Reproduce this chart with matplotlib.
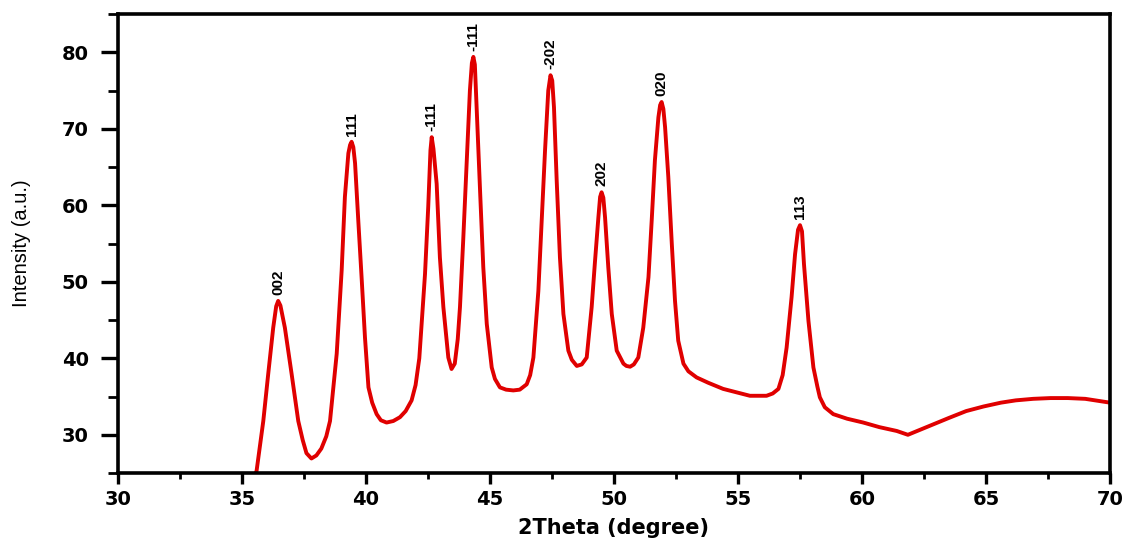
import matplotlib.pyplot as plt
from matplotlib.ticker import MultipleLocator

# digitised XRD pattern (2theta in degrees, intensity in a.u.)
two_theta = [35.45, 35.59, 35.86, 36.06, 36.26, 36.38, 36.46, 36.55, 36.73, 37.0, 37.27,
             37.45, 37.6, 37.8, 38.0, 38.2, 38.4, 38.55, 38.82, 39.02, 39.15, 39.29,
             39.36, 39.42, 39.49, 39.56, 39.69, 39.83, 39.96, 40.1, 40.25, 40.43, 40.6,
             40.83, 41.1, 41.37, 41.6, 41.84, 42.0, 42.15, 42.38, 42.51, 42.6, 42.65,
             42.72, 42.85, 42.98, 43.12, 43.32, 43.45, 43.58, 43.7, 43.79, 43.92, 44.06,
             44.19, 44.27, 44.33, 44.39, 44.46, 44.6, 44.73, 44.87, 45.07, 45.2, 45.4,
             45.65, 45.94, 46.2, 46.48, 46.62, 46.75, 46.95, 47.08, 47.22, 47.35, 47.44,
             47.51, 47.58, 47.69, 47.82, 47.96, 48.16, 48.3, 48.5, 48.7, 48.9, 49.1,
             49.23, 49.37, 49.44, 49.5, 49.57, 49.64, 49.77, 49.91, 50.11, 50.38, 50.5,
             50.65, 50.8, 50.98, 51.18, 51.39, 51.52, 51.65, 51.79, 51.86, 51.92, 51.99,
             52.06, 52.19, 52.33, 52.46, 52.59, 52.8, 53.0, 53.33, 53.8, 54.4, 55.0,
             55.48, 56.15, 56.4, 56.63, 56.8, 56.96, 57.16, 57.3, 57.42, 57.5, 57.58,
             57.66, 57.84, 58.04, 58.2, 58.3, 58.5, 58.84, 59.4, 60.05, 60.7, 61.4,
             61.85, 62.3, 62.9, 63.5, 64.2, 64.9, 65.6, 66.2, 66.9, 67.6, 68.3,
             69.0, 69.6, 70.0]
intensity = [24.0, 25.3, 31.8, 38.0, 44.0, 46.8, 47.5, 46.9, 44.0, 38.0, 31.8,
             29.3, 27.6, 26.9, 27.3, 28.2, 29.8, 31.8, 40.6, 51.5, 61.1, 66.8,
             67.9, 68.3, 67.6, 65.5, 58.0, 50.2, 42.7, 36.2, 34.2, 32.7, 31.9,
             31.6, 31.8, 32.3, 33.1, 34.5, 36.5, 40.0, 51.0, 59.8, 67.2, 68.9,
             67.4, 62.8, 53.2, 46.7, 40.1, 38.6, 39.3, 42.5, 46.7, 55.4, 65.4,
             75.0, 78.6, 79.4, 78.4, 72.8, 61.9, 51.9, 44.5, 38.8, 37.3, 36.2,
             35.9, 35.8, 35.9, 36.6, 37.8, 40.1, 48.8, 57.6, 67.2, 75.0, 77.0,
             76.3, 72.8, 63.2, 53.2, 45.8, 41.0, 39.8, 39.0, 39.2, 40.1, 46.7,
             52.5, 58.4, 61.1, 61.7, 61.0, 58.4, 51.9, 45.8, 41.0, 39.3, 39.0,
             38.9, 39.2, 40.1, 44.0, 50.6, 58.0, 65.9, 71.5, 73.1, 73.5, 72.6,
             70.2, 63.7, 55.0, 47.5, 42.3, 39.3, 38.3, 37.5, 36.8, 36.0, 35.5,
             35.1, 35.1, 35.4, 36.0, 37.8, 41.4, 48.0, 53.6, 56.8, 57.4, 56.6,
             52.3, 44.9, 38.8, 36.3, 34.9, 33.6, 32.7, 32.1, 31.6, 31.0, 30.5,
             30.0, 30.6, 31.4, 32.2, 33.1, 33.7, 34.2, 34.5, 34.7, 34.8, 34.8,
             34.7, 34.4, 34.2]

# peak labels (hkl) and their positions
peak_labels = ['002', '111', '-111', '-111', '-202', '202', '020', '113']
peak_x = [36.46, 39.42, 42.65, 44.33, 47.44, 49.5, 51.92, 57.5]
peak_y = [47.5, 68.3, 68.9, 79.4, 77.0, 61.7, 73.5, 57.4]

fig = plt.figure(figsize=(11.32, 5.4), dpi=100)
ax = fig.add_axes([0.1042, 0.124, 0.8764, 0.850])

ax.plot(two_theta, intensity, color='#e00000', linewidth=2.8,
        solid_joinstyle='round')

for lab, px, py in zip(peak_labels, peak_x, peak_y):
    ax.text(px, py + 0.8, lab, rotation=90, ha='center', va='bottom',
            fontsize=11, fontweight='bold',
            family=['Liberation Sans', 'DejaVu Sans'])

ax.set_xlim(30, 70)
ax.set_ylim(25, 85)
ax.xaxis.set_major_locator(MultipleLocator(5))
ax.xaxis.set_minor_locator(MultipleLocator(2.5))
ax.yaxis.set_major_locator(MultipleLocator(10))
ax.yaxis.set_minor_locator(MultipleLocator(5))
ax.set_yticks([30, 40, 50, 60, 70, 80])

for s in ax.spines.values():
    s.set_linewidth(2.6)
ax.tick_params(axis='y', which='major', direction='out', length=12, width=2.4,
               labelsize=14, pad=9)
ax.tick_params(axis='y', which='minor', direction='out', length=7, width=2.0)
ax.tick_params(axis='x', which='major', direction='out', length=8, width=2.4,
               labelsize=14, pad=4)
ax.tick_params(axis='x', which='minor', direction='out', length=4, width=2.0)
for lab in ax.get_xticklabels() + ax.get_yticklabels():
    lab.set_fontweight('bold')
    lab.set_family(['DejaVu Sans'])

ax.set_xlabel('2Theta (degree)', fontsize=15, fontweight='bold',
              family=['DejaVu Sans'], labelpad=7)
ax.set_ylabel('Intensity (a.u.)', fontsize=14.5,
              family=['Liberation Sans', 'DejaVu Sans'], labelpad=22)

plt.savefig('out.png', dpi=100)
